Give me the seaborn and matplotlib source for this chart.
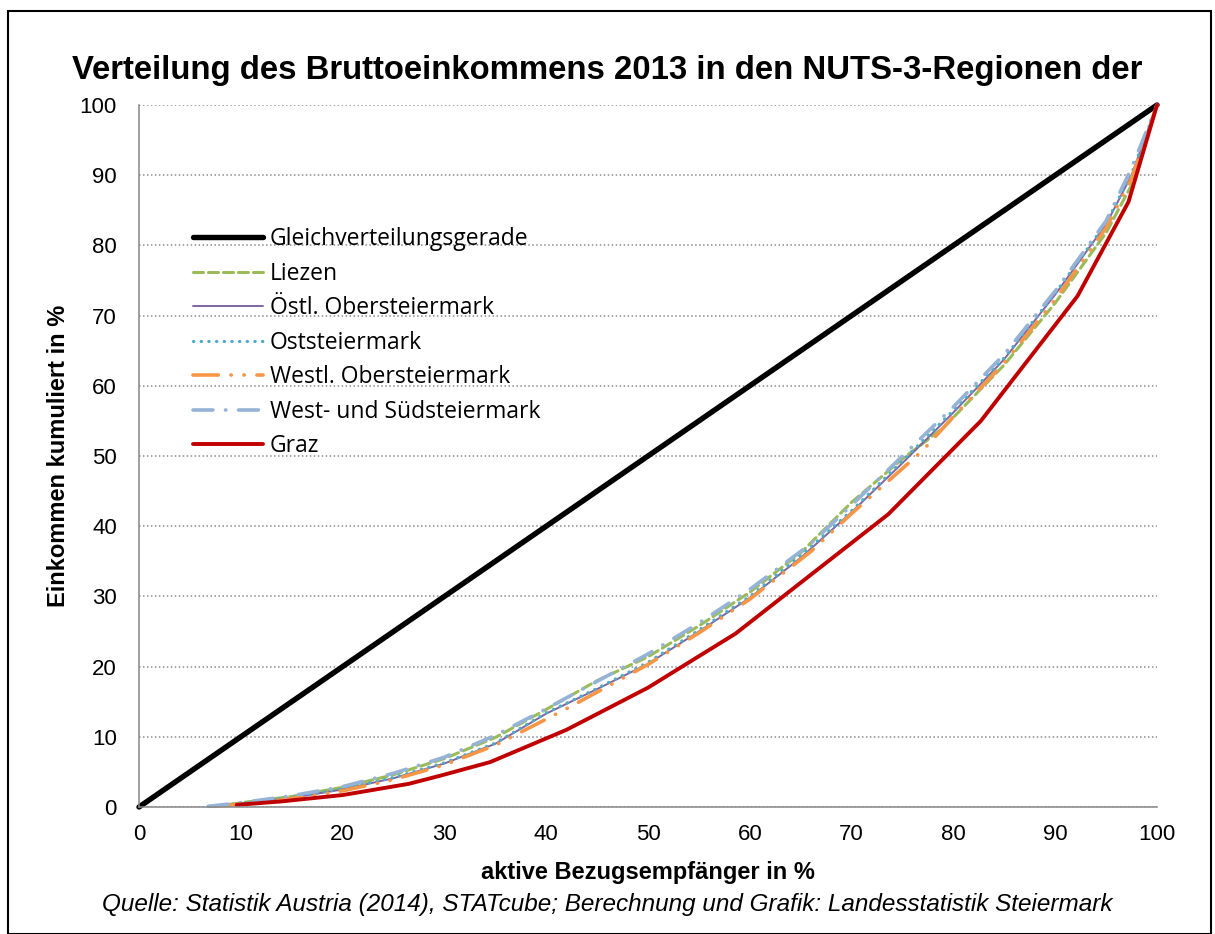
import matplotlib
matplotlib.use("Agg")
import matplotlib.pyplot as plt
from matplotlib.patches import Rectangle
import seaborn as sns

# cumulative share of recipients (x) vs cumulative income (y)
equal_x = [0, 100]
equal_y = [0, 100]

liezen_x = [7.5, 10, 15, 20, 25, 30, 35, 40, 45, 50, 55, 60, 65, 70, 75, 79, 85, 90, 95, 97.5, 100]
liezen_y = [0.1, 0.6, 1.5, 2.8, 4.6, 6.9, 9.9, 13.9, 18.0, 21.4, 25.8, 30.6, 36.2, 43.4, 49.6, 54.0, 63.0, 71.8, 81.8, 88.6, 100]

oestl_x = [7, 10, 15, 20, 25, 30, 35, 40, 45, 50, 55, 60, 65, 70, 75, 80, 85, 90, 95, 97.5, 100]
oestl_y = [0.1, 0.5, 1.3, 2.5, 4.1, 6.2, 9.0, 13.3, 16.8, 20.4, 25.0, 29.8, 35.5, 42.0, 49.0, 56.2, 63.8, 73.0, 83.0, 90.0, 100]

ost_x = [7, 10, 15, 20, 25, 30, 35, 40, 45, 50, 55, 60, 65, 70, 75, 80, 85, 90, 95, 97.5, 100]
ost_y = [0.1, 0.5, 1.4, 2.6, 4.2, 6.3, 9.1, 13.4, 16.9, 20.6, 25.2, 30.0, 35.8, 42.2, 49.3, 56.5, 64.0, 73.2, 83.2, 90.2, 100]

westl_x = [7.3, 10, 14, 20, 25, 30, 35, 42, 50, 55, 60, 66, 70, 77, 80, 85, 90, 95, 97.5, 100]
westl_y = [0.1, 0.4, 1.0, 2.3, 3.9, 6.0, 8.8, 14.0, 20.3, 24.8, 29.6, 36.4, 41.8, 50.8, 55.6, 63.3, 72.3, 82.5, 89.5, 100]

wsued_x = [6.8, 10, 15, 20, 25, 30, 35, 40, 45, 50, 55, 60, 66, 70, 75, 80, 85, 90, 95, 97.5, 100]
wsued_y = [0.1, 0.6, 1.6, 2.9, 4.8, 7.1, 10.2, 14.0, 17.9, 21.8, 26.2, 31.0, 37.5, 43.0, 50.0, 57.0, 64.5, 73.5, 83.5, 91.0, 100]

graz_x = [9.6, 14, 20, 26.5, 29.7, 34.5, 42, 50, 58.6, 73.6, 82.7, 92.2, 97.2, 100]
graz_y = [0.3, 0.8, 1.7, 3.3, 4.5, 6.4, 11.0, 17.0, 24.7, 41.7, 55.0, 72.8, 86.2, 100]

ticks = list(range(0, 101, 10))

sns.set_style("white")
plt.rcParams["font.family"] = ["Liberation Sans", "DejaVu Sans"]
plt.rcParams.update({"text.color": "black", "axes.labelcolor": "black",
                     "xtick.color": "black", "ytick.color": "black"})

fig = plt.figure(figsize=(12.15, 9.34), dpi=100)
ax = fig.add_axes([139 / 1215, 1 - 807 / 934, (1157 - 139) / 1215, (807 - 105) / 934])

series = [
    ("Gleichverteilungsgerade", equal_x, equal_y, "black", 3.9, "-"),
    ("Liezen", liezen_x, liezen_y, "#9BBB59", 2.2, (0, (3.3, 1.6))),
    ("Östl. Obersteiermark", oestl_x, oestl_y, "#8064A2", 1.4, "-"),
    ("Oststeiermark", ost_x, ost_y, "#4BACC6", 2.3, (0, (0.1, 2.3))),
    ("Westl. Obersteiermark", westl_x, westl_y, "#F79646", 2.6, (0, (7, 3.5, 0.1, 3.5, 0.1, 3.5))),
    ("West- und Südsteiermark", wsued_x, wsued_y, "#95B3D7", 2.6, (0, (5.5, 3.5, 0.1, 3.5))),
    ("Graz", graz_x, graz_y, "#C00000", 2.8, "-"),
]

for name, xs, ys, col, lw, ls in series:
    sns.lineplot(x=xs, y=ys, ax=ax, color=col, lw=lw, linestyle=ls, label=name,
                 sort=False, errorbar=None, clip_on=False, dash_capstyle="round")

ax.set_xlim(0, 100)
ax.set_ylim(0, 100)
ax.set_xticks(ticks)
ax.set_yticks(ticks)
ax.tick_params(axis="both", labelsize=16, length=5, width=1.1, color="#868686", direction="out")
ax.tick_params(axis="y", pad=11)
ax.tick_params(axis="x", pad=7)
ax.yaxis.grid(True, color="#8c8c8c", lw=1.1, linestyle=(0, (1, 1.6)))
ax.xaxis.grid(False)
ax.set_axisbelow(True)
for s in ["top", "right"]:
    ax.spines[s].set_visible(False)
for s in ["left", "bottom"]:
    ax.spines[s].set_color("#868686")
    ax.spines[s].set_linewidth(1.1)

ax.set_xlabel("aktive Bezugsempfänger in %", fontsize=17, fontweight="bold", labelpad=12)
ax.set_ylabel("Einkommen kumuliert in %", fontsize=17, fontweight="bold", labelpad=7)

leg = ax.legend(loc="upper left", bbox_to_anchor=(193 / 1215, 1 - 227 / 934),
                bbox_transform=fig.transFigure, frameon=False, borderpad=0, borderaxespad=0,
                handlelength=3.05, handletextpad=0.3, labelspacing=0.46,
                prop={"family": ["Open Sans", "DejaVu Sans"], "size": 16.5})

fig.text(0.5, 1 - 70 / 934, "Verteilung des Bruttoeinkommens 2013 in den NUTS-3-Regionen der",
         ha="center", va="center", fontsize=23.7, fontweight="bold")
fig.text(0.5, 1 - 905 / 934,
         "Quelle: Statistik Austria (2014), STATcube; Berechnung und Grafik: Landesstatistik Steiermark",
         ha="center", va="center", fontsize=17.5, style="italic")

fig.add_artist(Rectangle((8 / 1215, 0.5 / 934), 1203 / 1215, 923 / 934, transform=fig.transFigure,
                         fill=False, edgecolor="black", lw=1.5))

fig.savefig("out.png", dpi=100)
